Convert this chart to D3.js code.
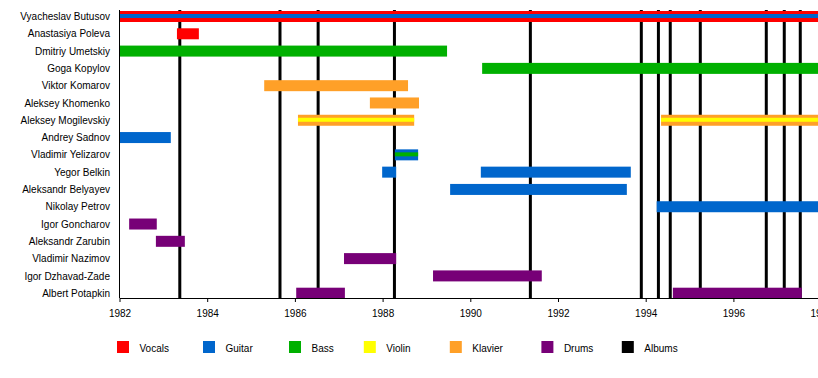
<!DOCTYPE html>
<html>
<head>
<meta charset="utf-8">
<script src="https://cdn.jsdelivr.net/npm/d3@7"></script>
<style>
  html, body { margin: 0; padding: 0; background: #fff; }
  svg { display: block; font-family: "Liberation Sans", Arial, Helvetica, sans-serif; }
</style>
</head>
<body>
<svg id="chart" width="818" height="378"></svg>
<script>
// ---- DATA ----
const members = [
  "Vyacheslav Butusov", "Anastasiya Poleva", "Dmitriy Umetskiy", "Goga Kopylov",
  "Viktor Komarov", "Aleksey Khomenko", "Aleksey Mogilevskiy", "Andrey Sadnov",
  "Vladimir Yelizarov", "Yegor Belkin", "Aleksandr Belyayev", "Nikolay Petrov",
  "Igor Goncharov", "Aleksandr Zarubin", "Vladimir Nazimov", "Igor Dzhavad-Zade",
  "Albert Potapkin"
];
const roles = ["Vocals", "Guitar", "Bass", "Violin", "Klavier", "Drums", "Albums"];
const roleColors = ["#ff0000", "#0066cc", "#00b000", "#ffff00", "#ffa028", "#770077", "#000000"];
// [member, main role, start, end, inner-stripe role or null]
const spans = [
  ["Vyacheslav Butusov", "Vocals", 1982.0, 1999.0, "Guitar"],
  ["Anastasiya Poleva", "Vocals", 1983.31, 1983.81, null],
  ["Dmitriy Umetskiy", "Bass", 1982.0, 1989.47, null],
  ["Goga Kopylov", "Bass", 1990.27, 1999.0, null],
  ["Viktor Komarov", "Klavier", 1985.30, 1988.58, null],
  ["Aleksey Khomenko", "Klavier", 1987.71, 1988.83, null],
  ["Aleksey Mogilevskiy", "Klavier", 1986.07, 1988.72, "Violin"],
  ["Aleksey Mogilevskiy", "Klavier", 1994.35, 1999.0, "Violin"],
  ["Andrey Sadnov", "Guitar", 1982.0, 1983.17, null],
  ["Vladimir Yelizarov", "Guitar", 1988.28, 1988.81, "Bass"],
  ["Yegor Belkin", "Guitar", 1987.99, 1988.31, null],
  ["Yegor Belkin", "Guitar", 1990.24, 1993.66, null],
  ["Aleksandr Belyayev", "Guitar", 1989.54, 1993.57, null],
  ["Nikolay Petrov", "Guitar", 1994.25, 1999.0, null],
  ["Igor Goncharov", "Drums", 1982.22, 1982.85, null],
  ["Aleksandr Zarubin", "Drums", 1982.83, 1983.49, null],
  ["Vladimir Nazimov", "Drums", 1987.12, 1988.31, null],
  ["Igor Dzhavad-Zade", "Drums", 1989.15, 1991.63, null],
  ["Albert Potapkin", "Drums", 1986.03, 1987.14, null],
  ["Albert Potapkin", "Drums", 1994.62, 1997.56, null]
];
const albumYears = [1983.375, 1985.66, 1986.53, 1988.27, 1991.37, 1993.90, 1994.29,
                    1994.56, 1995.245, 1996.75, 1997.16, 1997.525];
const tickYears = [1982, 1984, 1986, 1988, 1990, 1992, 1994, 1996, 1998];

// ---- LAYOUT ----
const svg = d3.select("#chart");
const plotTop = 10, plotBottom = 298, plotLeft = 119.5;
const x = d3.scaleLinear().domain([1982, 1998]).range([plotLeft, 821.1]);
const y = d3.scalePoint().domain(members).range([16.5, 293.2]);
const color = d3.scaleOrdinal().domain(roles).range(roleColors);
const barH = 11, stripeH = 4;

// album lines (behind bars)
svg.append("g").selectAll("line").data(albumYears).join("line")
  .attr("x1", d => x(d)).attr("x2", d => x(d))
  .attr("y1", plotTop).attr("y2", plotBottom)
  .attr("stroke", color("Albums")).attr("stroke-width", 3);

// bars
const bars = svg.append("g");
bars.selectAll("rect.main").data(spans).join("rect")
  .attr("class", "main")
  .attr("x", d => x(d[2]))
  .attr("width", d => x(d[3]) - x(d[2]))
  .attr("y", d => y(d[0]) - barH / 2)
  .attr("height", barH)
  .attr("fill", d => color(d[1]));
bars.selectAll("rect.inner").data(spans.filter(d => d[4])).join("rect")
  .attr("class", "inner")
  .attr("x", d => x(d[2]))
  .attr("width", d => x(d[3]) - x(d[2]))
  .attr("y", d => y(d[0]) - 2.5)
  .attr("height", stripeH)
  .attr("fill", d => color(d[4]));

// member labels
svg.append("g").selectAll("text").data(members).join("text")
  .attr("x", 110).attr("y", d => y(d) + 3.6)
  .attr("text-anchor", "end")
  .attr("font-size", 10).attr("fill", "#000")
  .text(d => d);

// left axis line
svg.append("line")
  .attr("x1", plotLeft).attr("x2", plotLeft)
  .attr("y1", plotTop).attr("y2", plotBottom)
  .attr("stroke", "#000").attr("stroke-width", 1);

// bottom axis
const axis = svg.append("g").attr("transform", `translate(0,${plotBottom})`)
  .call(d3.axisBottom(x).tickValues(tickYears).tickFormat(d3.format("d"))
        .tickSize(4).tickSizeOuter(0).tickPadding(8));
axis.select(".domain").attr("stroke", "#000");
axis.selectAll(".tick line").attr("stroke", "#000");
axis.selectAll(".tick text").attr("font-size", 10).attr("fill", "#000")
  .attr("font-family", "'Liberation Sans', Arial, sans-serif");

// legend
const legend = svg.append("g");
let lx = 117;
roles.forEach(r => {
  const g = legend.append("g").attr("transform", `translate(${lx},341)`);
  g.append("rect").attr("width", 12).attr("height", 12).attr("fill", color(r));
  g.append("text").attr("x", 22.5).attr("y", 10.5)
    .attr("font-size", 10).attr("fill", "#000").text(r);
  lx += 52.4 + 5.6 * r.length;
});
</script>
</body>
</html>
